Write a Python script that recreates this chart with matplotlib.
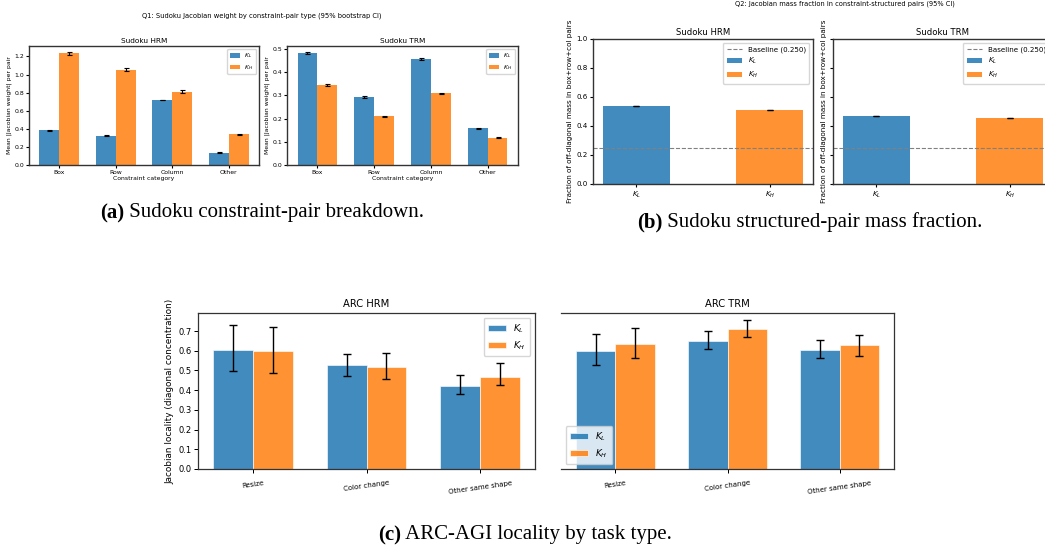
import numpy as np
import matplotlib
matplotlib.use("Agg")
import matplotlib.pyplot as plt

# ---- Sudoku constraint-pair breakdown (Q1) ----
sudoku_categories = ["Box", "Row", "Column", "Other"]
hrm_kl = [0.385, 0.326, 0.719, 0.137]
hrm_kl_err = [0.004, 0.003, 0.005, 0.003]
hrm_kh = [1.233, 1.052, 0.810, 0.341]
hrm_kh_err = [0.020, 0.018, 0.018, 0.006]
trm_kl = [0.483, 0.292, 0.457, 0.158]
trm_kl_err = [0.005, 0.004, 0.004, 0.002]
trm_kh = [0.344, 0.210, 0.309, 0.118]
trm_kh_err = [0.005, 0.003, 0.003, 0.002]

# ---- structured-pair mass fraction (Q2) ----
mass_labels = ["$K_L$", "$K_H$"]
mass_hrm = [0.538, 0.510]
mass_hrm_err = [0.002, 0.002]
mass_trm = [0.469, 0.455]
mass_trm_err = [0.002, 0.002]
baseline = 0.25

# ---- ARC-AGI locality by task type ----
arc_tasks = ["Resize", "Color change", "Other same shape"]
arc_hrm_kl = [0.606, 0.526, 0.423]
arc_hrm_kl_lo = [0.497, 0.472, 0.381]
arc_hrm_kl_hi = [0.733, 0.584, 0.477]
arc_hrm_kh = [0.597, 0.519, 0.468]
arc_hrm_kh_lo = [0.489, 0.457, 0.426]
arc_hrm_kh_hi = [0.721, 0.587, 0.538]
arc_trm_kl = [0.600, 0.651, 0.606]
arc_trm_kl_lo = [0.528, 0.607, 0.561]
arc_trm_kl_hi = [0.683, 0.699, 0.653]
arc_trm_kh = [0.636, 0.711, 0.627]
arc_trm_kh_lo = [0.565, 0.670, 0.575]
arc_trm_kh_hi = [0.714, 0.754, 0.680]

BLUE = "tab:blue"
ORANGE = "tab:orange"
ALPHA = 0.85

W, H = 1045, 550
fig = plt.figure(figsize=(W / 100, H / 100), dpi=100)


def px_axes(left, right, top, bottom, **kw):
    # axes placed by pixel edges
    return fig.add_axes([left / W, 1 - bottom / H, (right - left) / W, (bottom - top) / H], **kw)


def style_axes(ax, fs, lw, tick_len):
    for s in ax.spines.values():
        s.set_linewidth(lw)
        s.set_color("#333333")
    ax.tick_params(labelsize=fs, width=lw * 0.8, length=tick_len, pad=1.5)


# ---------- (a) ----------
def sudoku_panel(ax, kl, kl_err, kh, kh_err, title, fs):
    x = np.arange(len(sudoku_categories))
    w = 0.35
    ekw = dict(elinewidth=0.8, capthick=0.8)
    ax.bar(x - w / 2, kl, w, yerr=kl_err, capsize=1.8, color=BLUE, alpha=ALPHA,
           label="$K_L$", error_kw=ekw)
    ax.bar(x + w / 2, kh, w, yerr=kh_err, capsize=1.8, color=ORANGE, alpha=ALPHA,
           label="$K_H$", error_kw=ekw)
    ax.set_xticks(x)
    ax.set_xticklabels(sudoku_categories)
    ax.set_xlabel("Constraint category", fontsize=fs, labelpad=1)
    ax.set_ylabel("Mean |Jacobian weight| per pair", fontsize=fs, labelpad=2)
    ax.set_title(title, fontsize=fs * 1.2, pad=2.5)
    ax.legend(fontsize=fs, loc="upper right", handlelength=1.6, borderpad=0.4,
              labelspacing=0.4, framealpha=0.8)
    style_axes(ax, fs, 1.0, 2)


ax_a1 = px_axes(29, 259, 46, 165)
sudoku_panel(ax_a1, hrm_kl, hrm_kl_err, hrm_kh, hrm_kh_err, "Sudoku HRM", 4.4)
ax_a2 = px_axes(287, 518, 46, 165)
sudoku_panel(ax_a2, trm_kl, trm_kl_err, trm_kh, trm_kh_err, "Sudoku TRM", 4.4)
fig.text(262 / W, 1 - 16 / H,
         "Q1: Sudoku Jacobian weight by constraint-pair type (95% bootstrap CI)",
         fontsize=4.9, ha="center", va="center")


# ---------- (b) ----------
def mass_panel(ax, vals, errs, title, fs, show_ticklabels=True):
    x = np.arange(len(mass_labels))
    ax.axhline(baseline, color="gray", linestyle="--", linewidth=0.8,
               label=f"Baseline ({baseline:.3f})")
    bars = ax.bar(x, vals, 0.5, yerr=errs, capsize=2.5, color=[BLUE, ORANGE], alpha=ALPHA,
                  error_kw=dict(elinewidth=0.9, capthick=0.9))
    bars[0].set_label("$K_L$")
    bars[1].set_label("$K_H$")
    ax.set_ylim(0, 1.0)
    ax.set_xlim(-0.325, 1.325)
    ax.set_xticks(x)
    ax.set_xticklabels(mass_labels)
    ax.set_ylabel("Fraction of off-diagonal mass in box+row+col pairs", fontsize=5.2,
                  labelpad=2)
    ax.set_title(title, fontsize=fs * 1.2, pad=3)
    ax.legend(fontsize=fs, loc="upper right", handlelength=2.2, borderpad=0.5,
              labelspacing=0.5, framealpha=0.8)
    if not show_ticklabels:
        ax.tick_params(labelleft=False)
    style_axes(ax, fs, 1.0, 2.5)


ax_b1 = px_axes(593, 813, 39, 184)
mass_panel(ax_b1, mass_hrm, mass_hrm_err, "Sudoku HRM", 5.1)
ax_b2 = px_axes(833, 1053, 39, 184)
mass_panel(ax_b2, mass_trm, mass_trm_err, "Sudoku TRM", 5.1, show_ticklabels=False)
fig.text(845 / W, 1 - 4 / H,
         "Q2: Jacobian mass fraction in constraint-structured pairs (95% CI)",
         fontsize=4.8, ha="center", va="center")


# ---------- (c) ----------
def arc_panel(ax, kl, kl_lo, kl_hi, kh, kh_lo, kh_hi, title, legend_loc):
    x = np.arange(len(arc_tasks))
    w = 0.35
    kl_err = [np.subtract(kl, kl_lo), np.subtract(kl_hi, kl)]
    kh_err = [np.subtract(kh, kh_lo), np.subtract(kh_hi, kh)]
    ekw = dict(elinewidth=1.0, capthick=1.0)
    ax.bar(x - w / 2, kl, w, yerr=kl_err, capsize=3, color=BLUE, alpha=ALPHA,
           edgecolor="white", linewidth=0.5, label="$K_L$", error_kw=ekw)
    ax.bar(x + w / 2, kh, w, yerr=kh_err, capsize=3, color=ORANGE, alpha=ALPHA,
           edgecolor="white", linewidth=0.5, label="$K_H$", error_kw=ekw)
    ax.set_xticks(x)
    ax.set_xticklabels(arc_tasks, rotation=8, fontsize=5)
    ax.set_title(title, fontsize=7.2, pad=4)
    ax.legend(fontsize=6.5, loc=legend_loc, handlelength=2.0, borderpad=0.5,
              labelspacing=0.5, framealpha=0.8)
    style_axes(ax, 6, 0.9, 3)
    ax.tick_params(axis="x", labelsize=5, pad=5)


ax_c1 = px_axes(198, 535, 313, 469)
arc_panel(ax_c1, arc_hrm_kl, arc_hrm_kl_lo, arc_hrm_kl_hi,
          arc_hrm_kh, arc_hrm_kh_lo, arc_hrm_kh_hi, "ARC HRM", "upper right")
ax_c1.set_ylabel("Jacobian locality (diagonal concentration)", fontsize=6.4, labelpad=3)
ax_c2 = px_axes(561, 894, 313, 469, sharey=ax_c1)
arc_panel(ax_c2, arc_trm_kl, arc_trm_kl_lo, arc_trm_kl_hi,
          arc_trm_kh, arc_trm_kh_lo, arc_trm_kh_hi, "ARC TRM", "lower left")
ax_c2.tick_params(labelleft=False, left=False)
ax_c2.spines["left"].set_visible(False)
top = max(max(arc_hrm_kl_hi), max(arc_hrm_kh_hi), max(arc_trm_kl_hi), max(arc_trm_kh_hi))
ax_c1.set_ylim(0, top * 1.05)


# ---------- sub-captions ----------
def caption(x_left, y_mid, tag, text, size=15):
    t = fig.text(x_left / W, 1 - y_mid / H, tag, fontsize=size, fontweight="bold",
                 family="Liberation Serif", ha="left", va="center")
    # plain part placed right after the bold tag
    fig.add_artist(matplotlib.text.Annotation(
        " " + text, xy=(1, 0.5), xycoords=t, va="center", ha="left",
        fontsize=size, family="Liberation Serif"))


caption(100, 213, "(a)", "Sudoku constraint-pair breakdown.")
caption(637, 222, "(b)", "Sudoku structured-pair mass fraction.")
caption(378, 535, "(c)", "ARC-AGI locality by task type.")

fig.savefig("out.png", dpi=100)
